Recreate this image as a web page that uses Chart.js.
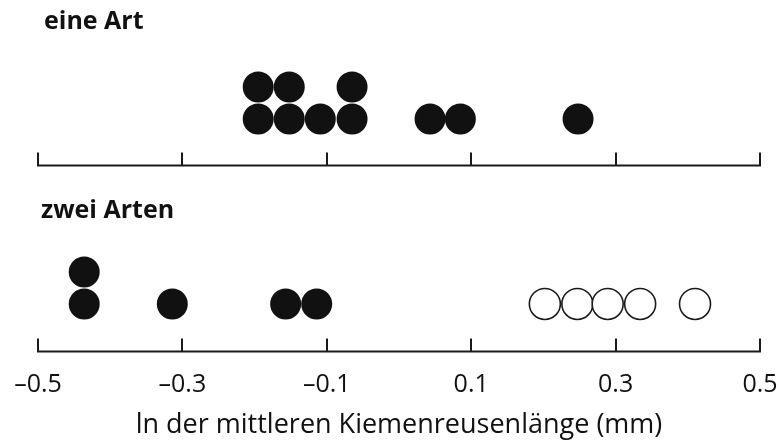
<!DOCTYPE html>
<html>
<head>
<meta charset="utf-8">
<script src="https://cdn.jsdelivr.net/npm/chart.js@4.4.1/dist/chart.umd.min.js"></script>
<style>
  body { margin: 0; background: #fff; }
  #wrap { position: relative; width: 780px; height: 444px; }
  .group-label {
    position: absolute;
    font-family: 'Open Sans', sans-serif;
    font-weight: 700;
    font-size: 25px;
    line-height: 1;
    color: #111;
    white-space: nowrap;
  }
</style>
</head>
<body>
<div id="wrap">
  <canvas id="chart" width="780" height="444"></canvas>
  <div class="group-label" style="left:44px; top:7px;">eine Art</div>
  <div class="group-label" style="left:41px; top:196px;">zwei Arten</div>
</div>
<script>
// ln der mittleren Kiemenreusenlänge, one dot per population
const tickValues = [-0.5, -0.3, -0.1, 0.1, 0.3, 0.5];

// eine Art (all filled)
const eineArtValues = [-0.195, -0.152, -0.109, -0.065, 0.043, 0.085, 0.248];
const eineArtCounts = [2, 2, 1, 2, 1, 1, 1];

// zwei Arten: filled dots and open dots
const zweiArtenFilledValues = [-0.436, -0.314, -0.157, -0.114];
const zweiArtenFilledCounts = [2, 1, 1, 1];
const zweiArtenOpenValues = [0.202, 0.247, 0.289, 0.334, 0.410];
const zweiArtenOpenCounts = [1, 1, 1, 1, 1];

const axisTitle = 'ln der mittleren Kiemenreusenlänge (mm)';

// vertical layout in "dot rows" on the hidden y scale
const topBase = 5.78;      // first row of the upper panel sits at topBase + 1
const bottomBase = 0;      // first row of the lower panel sits at bottomBase + 1
const topAxisLevel = 5.34;
const bottomAxisLevel = -0.47;

function stackPoints(values, counts, base) {
    const pts = [];
    values.forEach((v, i) => {
        for (let k = 1; k <= counts[i]; k++) {
            pts.push({ x: v, y: base + k });
        }
    });
    return pts;
}

function fmt(v) {
    return v < 0 ? '\u2013' + Math.abs(v).toFixed(1) : v.toFixed(1);
}

// labels may overhang the plot, keep the plot edges on the layout padding
function noScalePadding(scale) {
    scale.paddingLeft = 0;
    scale.paddingRight = 0;
    scale.paddingTop = 0;
    scale.paddingBottom = 0;
}

const axisLines = {
    id: 'axisLines',
    afterDatasetsDraw(chart) {
        const ctx = chart.ctx;
        const xs = chart.scales.x;
        const ys = chart.scales.y;
        const x0 = xs.getPixelForValue(tickValues[0]);
        const x1 = xs.getPixelForValue(tickValues[tickValues.length - 1]);
        ctx.save();
        ctx.strokeStyle = '#1a1a1a';
        ctx.lineWidth = 2;
        ctx.lineCap = 'square';
        [topAxisLevel, bottomAxisLevel].forEach(level => {
            const y = Math.round(ys.getPixelForValue(level)) + 0.5;
            ctx.beginPath();
            ctx.moveTo(x0, y);
            ctx.lineTo(x1, y);
            tickValues.forEach(t => {
                const tx = Math.round(xs.getPixelForValue(t));
                ctx.moveTo(tx, y);
                ctx.lineTo(tx, y - 12);
            });
            ctx.stroke();
        });
        ctx.restore();
    }
};

new Chart(document.getElementById('chart'), {
    type: 'scatter',
    data: {
        datasets: [
            {
                label: 'eine Art',
                data: stackPoints(eineArtValues, eineArtCounts, topBase),
                pointStyle: 'circle',
                pointRadius: 15.5,
                backgroundColor: '#111',
                borderWidth: 0
            },
            {
                label: 'zwei Arten (gefüllt)',
                data: stackPoints(zweiArtenFilledValues, zweiArtenFilledCounts, bottomBase),
                pointStyle: 'circle',
                pointRadius: 15.5,
                backgroundColor: '#111',
                borderWidth: 0
            },
            {
                label: 'zwei Arten (offen)',
                data: stackPoints(zweiArtenOpenValues, zweiArtenOpenCounts, bottomBase),
                pointStyle: 'circle',
                pointRadius: 15.5,
                backgroundColor: '#fff',
                borderColor: '#1a1a1a',
                borderWidth: 1.6
            }
        ]
    },
    options: {
        responsive: false,
        animation: false,
        events: [],
        layout: { autoPadding: false, padding: { left: 38, right: 20, top: 7, bottom: 0 } },
        plugins: {
            legend: { display: false },
            tooltip: { enabled: false }
        },
        scales: {
            x: {
                type: 'linear',
                min: -0.5,
                max: 0.5,
                afterBuildTicks: scale => {
                    scale.ticks = tickValues.map(v => ({ value: v }));
                },
                afterFit: noScalePadding,
                grid: { display: false, drawTicks: false },
                border: { display: false },
                ticks: {
                    padding: 19,
                    color: '#111',
                    font: { family: "'Open Sans', sans-serif", size: 25 },
                    maxRotation: 0,
                    autoSkip: false,
                    callback: v => fmt(v)
                },
                title: {
                    display: true,
                    text: axisTitle,
                    color: '#111',
                    font: { family: "'Open Sans', sans-serif", size: 27, lineHeight: 0.444 },
                    padding: { top: 0, bottom: 13 }
                }
            },
            y: {
                display: false,
                min: bottomAxisLevel,
                max: 10.28,
                afterFit: noScalePadding
            }
        }
    },
    plugins: [axisLines]
});
</script>
</body>
</html>
